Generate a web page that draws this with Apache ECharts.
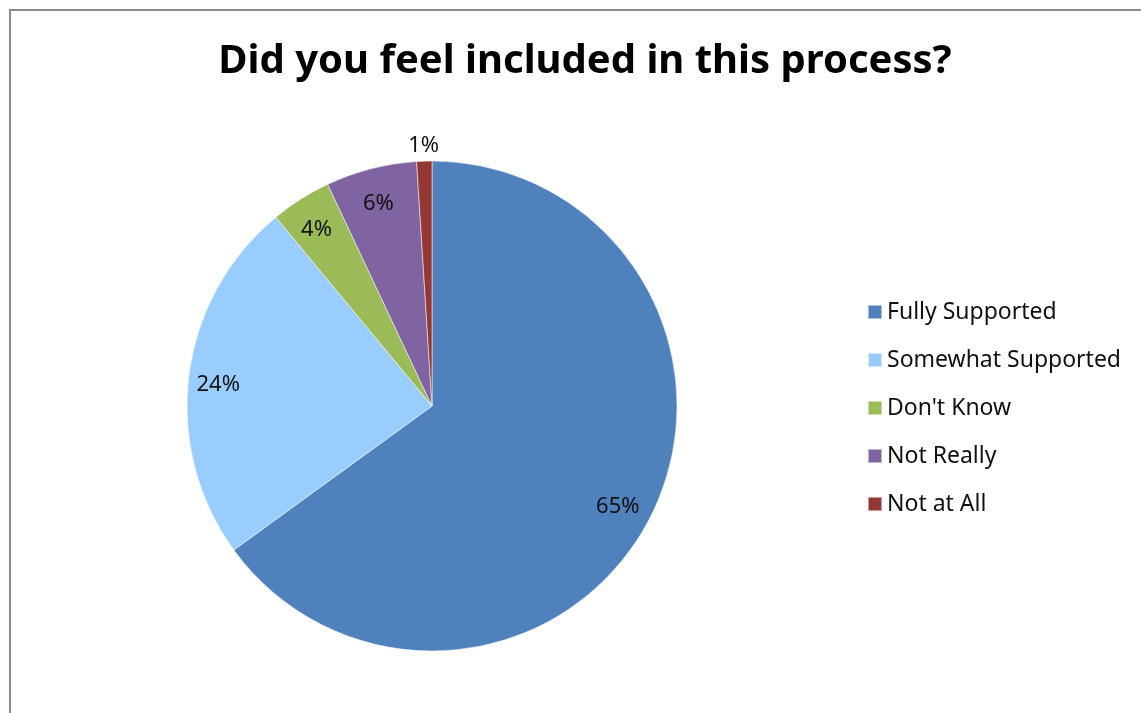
<!DOCTYPE html>
<html>
<head>
<meta charset="utf-8">
<script src="https://cdn.jsdelivr.net/npm/echarts@6/dist/echarts.min.js"></script>
<style>
  html, body { margin: 0; padding: 0; background: #fff; }
  #chart { width: 1141px; height: 713px; }
</style>
</head>
<body>
<div id="chart"></div>
<script>
// Survey responses
const categories = ['Fully Supported', 'Somewhat Supported', "Don't Know", 'Not Really', 'Not at All'];
const percents = [65, 24, 4, 6, 1];
const sliceColors = ['#4F81BD', '#99CCFF', '#9BBB59', '#8064A2', '#953735'];
const titleText = 'Did you feel included in this process?';

const FONT = '"Noto Sans", "Open Sans", sans-serif';
const center = [432, 406];
const R = 245;

const pieData = categories.map((name, i) => ({
  name,
  value: percents[i],
  itemStyle: { color: sliceColors[i] }
}));

// Transparent rings that carry the percentage labels at a chosen distance
// from the centre; each ring only shows the labels picked by `keep`.
function labelRing(inner, outer, keep) {
  return {
    type: 'pie',
    center: center,
    radius: [inner, outer],
    startAngle: 90,
    clockwise: true,
    silent: true,
    data: categories.map((name, i) => ({
      name,
      value: percents[i],
      itemStyle: { color: 'rgba(0,0,0,0)' },
      label: { show: keep(i) }
    })),
    label: {
      position: 'inside',
      formatter: '{c}%',
      fontFamily: FONT,
      fontSize: 22,
      color: '#111'
    },
    labelLayout: { dy: 6 },
    labelLine: { show: false },
    emphasis: { disabled: true }
  };
}

const chart = echarts.init(document.getElementById('chart'), null, { renderer: 'canvas' });
chart.setOption({
  backgroundColor: '#ffffff',
  animation: false,
  title: {
    text: titleText,
    left: 580,
    textAlign: 'center',
    top: 37,
    textStyle: { fontFamily: FONT, fontWeight: 'bold', fontSize: 40, color: '#000' }
  },
  legend: {
    orient: 'vertical',
    left: 862,
    top: 295,
    itemWidth: 14,
    itemHeight: 14,
    itemGap: 24,
    itemTextGap: 8,
    icon: 'rect',
    data: categories,
    textStyle: { fontFamily: FONT, fontSize: 23, lineHeight: 24, color: '#111' }
  },
  graphic: [{
    type: 'polyline',
    shape: { points: [[10, 760], [10, 10], [1200, 10]] },
    style: { stroke: '#8a8a8a', lineWidth: 2, fill: null },
    silent: true
  }],
  series: [
    {
      type: 'pie',
      center: center,
      radius: [0, R],
      startAngle: 90,
      clockwise: true,
      data: pieData,
      label: { show: false },
      labelLine: { show: false },
      itemStyle: { borderColor: 'rgba(255,255,255,0.5)', borderWidth: 1 },
      emphasis: { disabled: true }
    },
    labelRing(166, R, i => i === 0),
    labelRing(180, R, i => i > 0 && percents[i] >= 2),
    labelRing(R, 281, i => percents[i] < 2)
  ]
});
</script>
</body>
</html>
